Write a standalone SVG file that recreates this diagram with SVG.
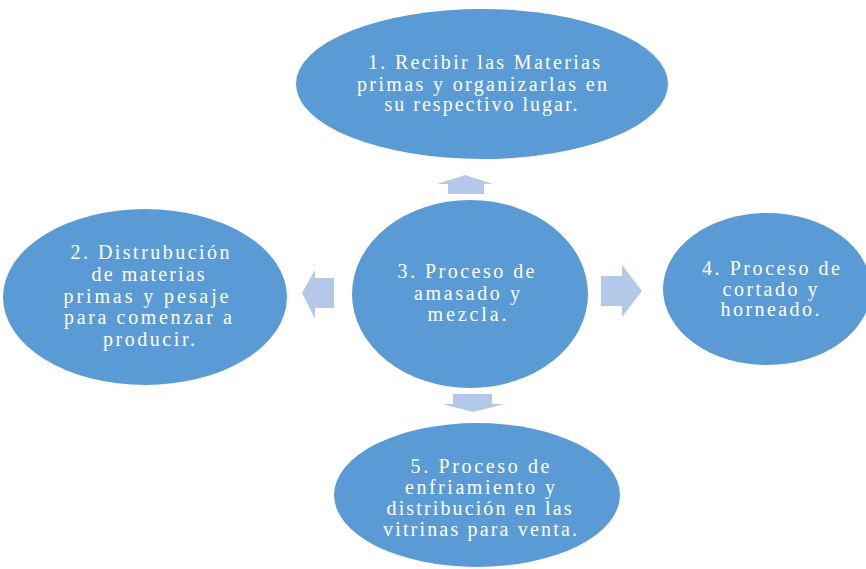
<svg xmlns="http://www.w3.org/2000/svg" width="866" height="569" viewBox="0 0 866 569">
<style>
.node{fill:#5b9bd5;}
.arrow{fill:#b4c9e8;}
.t{font-family:"Liberation Serif","Times New Roman",serif;font-size:20px;fill:#ffffff;text-anchor:middle;}
</style>
<rect width="866" height="569" fill="#ffffff"/>
<g id="connectors">
<polygon class="arrow" points="465,175 493,184 484,184 484,194 448,194 448,184 437,184"/>
<polygon class="arrow" points="302,293 315,270 315,278 334,278 334,308 315,308 315,319"/>
<polygon class="arrow" points="642,291 622,265 622,276 601,276 601,306 622,306 622,317"/>
<polygon class="arrow" points="473,412 505,404 492,404 492,394 453,394 453,404 442,404"/>
</g>
<g id="node1">
<ellipse class="node" cx="482" cy="84" rx="186" ry="75"/>
<text class="t"><tspan x="484" y="69" textLength="232" lengthAdjust="spacing">1. Recibir las Materias</tspan><tspan x="482" y="91" textLength="250" lengthAdjust="spacing">primas y organizarlas en</tspan><tspan x="481" y="111" textLength="193" lengthAdjust="spacing">su respectivo lugar.</tspan></text>
</g>
<g id="node2">
<ellipse class="node" cx="145" cy="297" rx="142" ry="88"/>
<text class="t"><tspan x="150" y="259" textLength="159" lengthAdjust="spacing">2. Distrubución</tspan><tspan x="148" y="281" textLength="113" lengthAdjust="spacing">de materias</tspan><tspan x="146" y="303" textLength="165" lengthAdjust="spacing">primas y pesaje</tspan><tspan x="148" y="324" textLength="168" lengthAdjust="spacing">para comenzar a</tspan><tspan x="149" y="346" textLength="92" lengthAdjust="spacing">producir.</tspan></text>
</g>
<g id="node3">
<ellipse class="node" cx="470" cy="294" rx="118" ry="94"/>
<text class="t"><tspan x="466" y="278" textLength="137" lengthAdjust="spacing">3. Proceso de</tspan><tspan x="467" y="300" textLength="106" lengthAdjust="spacing">amasado y</tspan><tspan x="467" y="321" textLength="79" lengthAdjust="spacing">mezcla.</tspan></text>
</g>
<g id="node4">
<ellipse class="node" cx="767" cy="289" rx="104" ry="76"/>
<text class="t"><tspan x="771" y="275" textLength="138" lengthAdjust="spacing">4. Proceso de</tspan><tspan x="770" y="296" textLength="95" lengthAdjust="spacing">cortado y</tspan><tspan x="770" y="316" textLength="99" lengthAdjust="spacing">horneado.</tspan></text>
</g>
<g id="node5">
<ellipse class="node" cx="477" cy="495" rx="143" ry="72"/>
<text class="t"><tspan x="480" y="473" textLength="139" lengthAdjust="spacing">5. Proceso de</tspan><tspan x="480" y="494" textLength="150" lengthAdjust="spacing">enfriamiento y</tspan><tspan x="479" y="515" textLength="185" lengthAdjust="spacing">distribución en las</tspan><tspan x="480" y="536" textLength="194" lengthAdjust="spacing">vitrinas para venta.</tspan></text>
</g>
</svg>
